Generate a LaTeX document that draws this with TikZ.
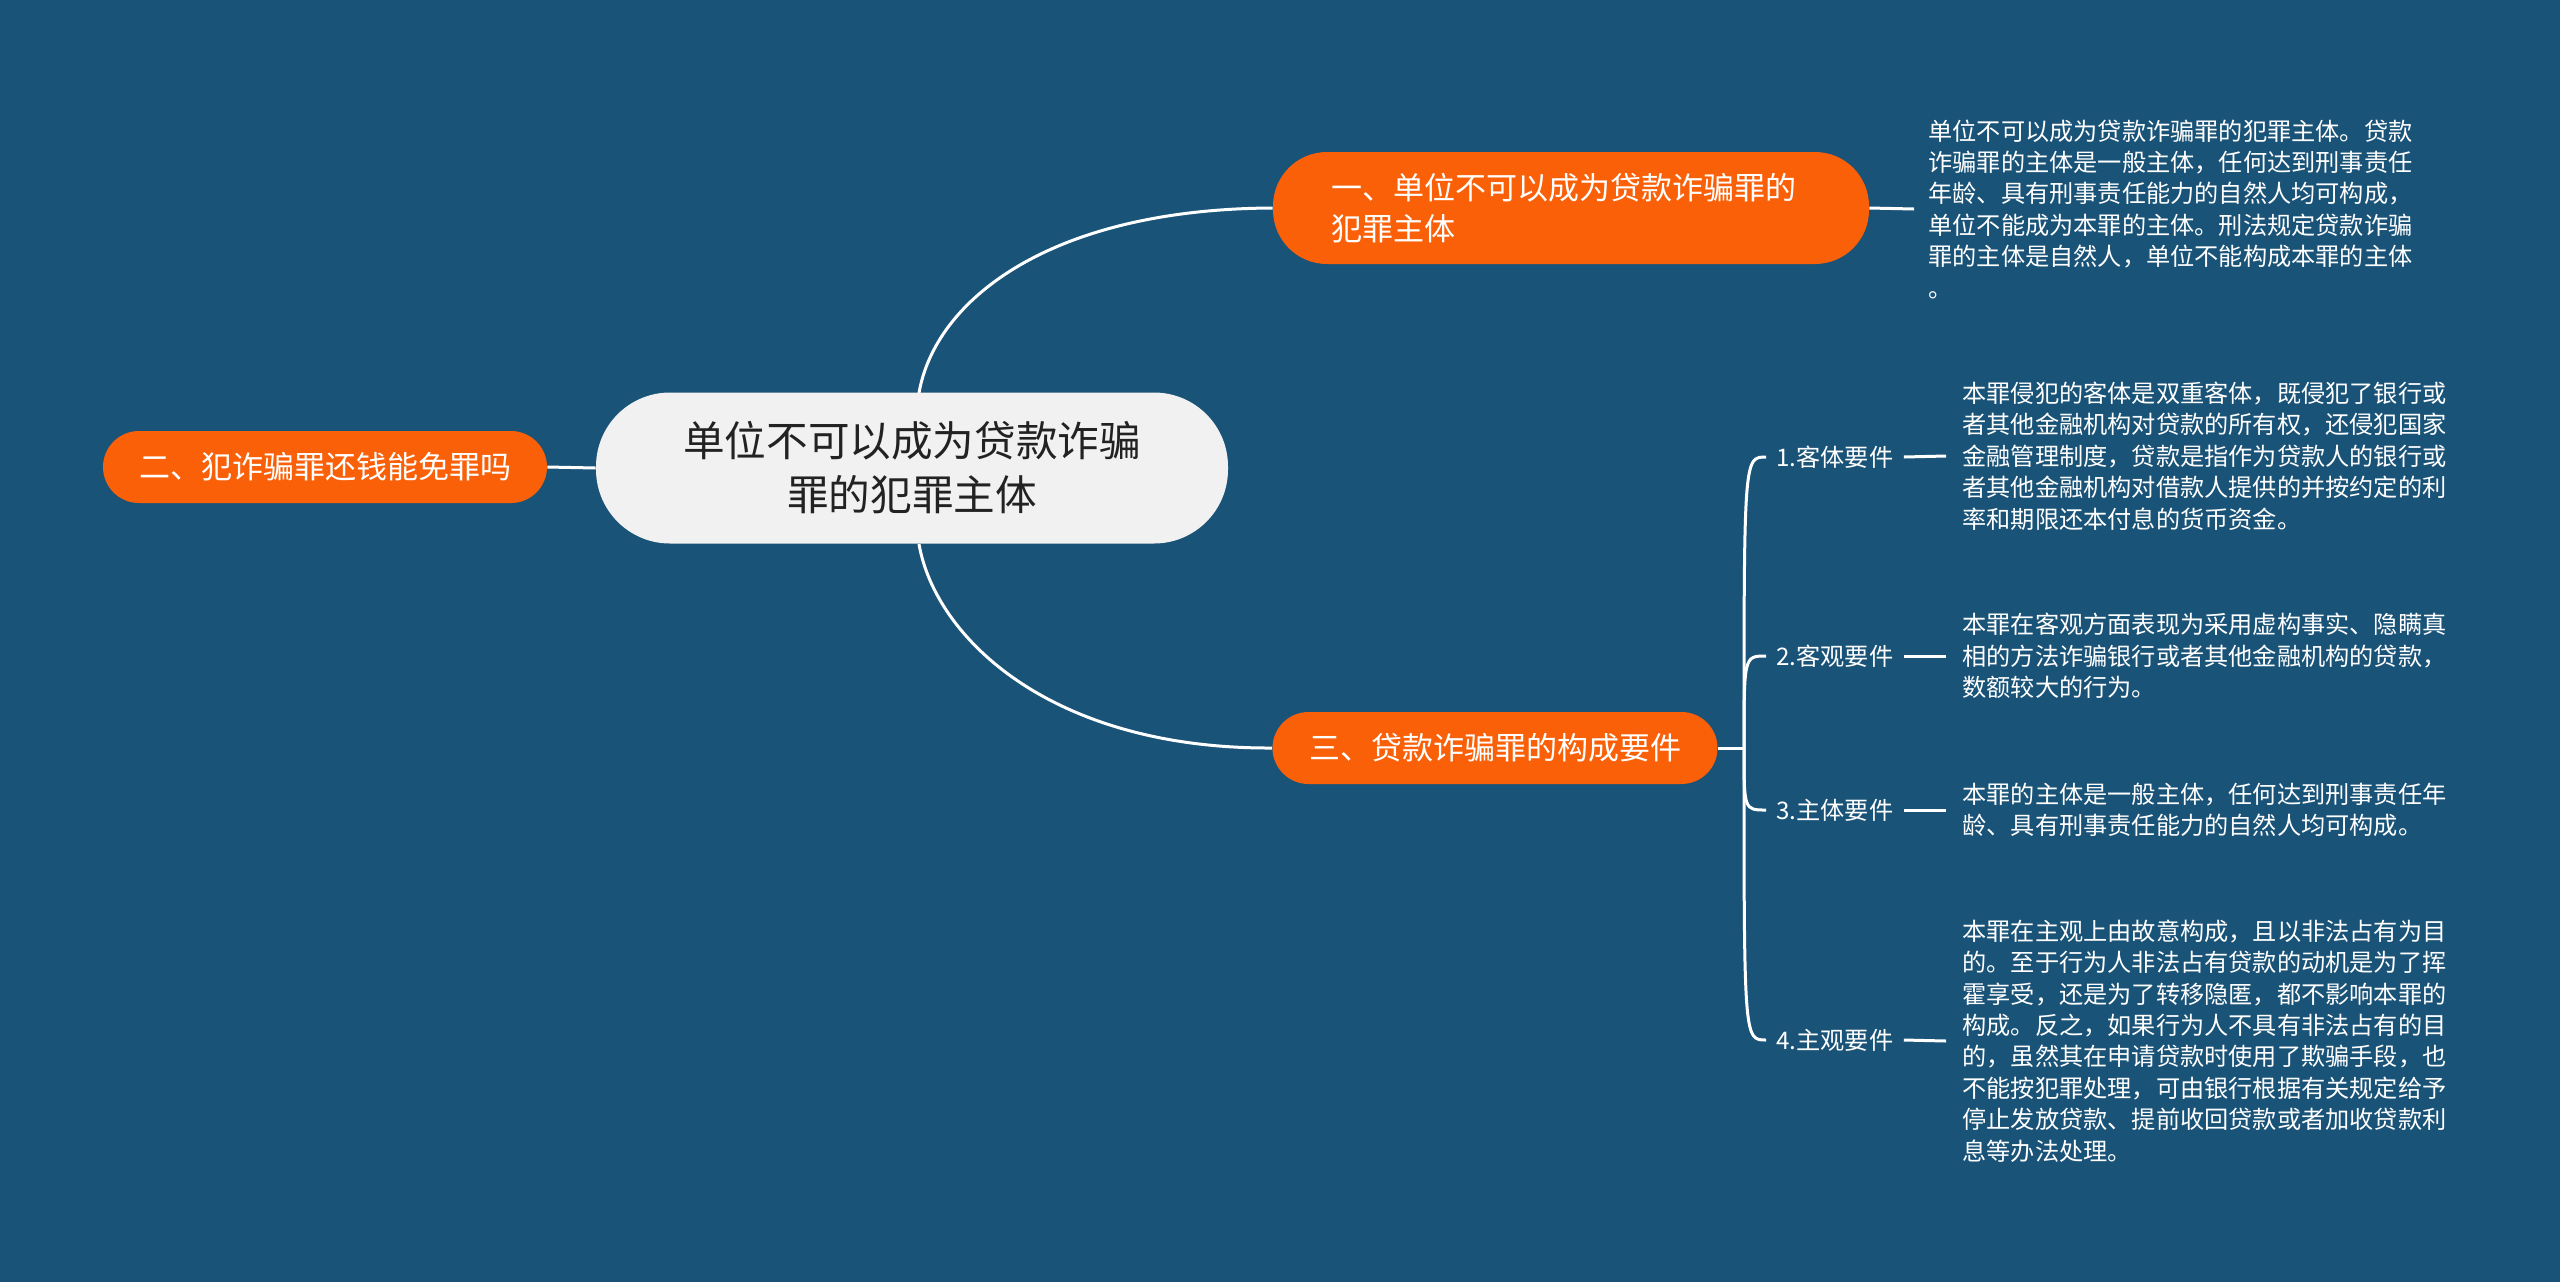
\documentclass[tikz,border=0pt]{standalone}
\usepackage{fontspec}
\setmainfont{Noto Sans CJK SC}
\definecolor{bg}{RGB}{26,83,120}
\definecolor{org}{RGB}{249,96,8}
\definecolor{ctr}{RGB}{241,241,241}
\definecolor{ctrtext}{RGB}{34,34,34}
\begin{document}
\begin{tikzpicture}[x=0.5pt,y=-0.5pt,
  conn/.style={draw=white, line width=1.5pt},
  centerbox/.style={fill=ctr, text=ctrtext, rounded corners=37pt, minimum width=316pt, minimum height=75.5pt, align=center, inner sep=0pt, font=\fontsize{20.8pt}{27pt}\selectfont},
  topicbox/.style={fill=org, text=white, rounded corners=18pt, minimum height=36pt, inner sep=0pt, align=center, font=\fontsize{15.5pt}{20.5pt}\selectfont},
  detail/.style={text=white, align=left, inner ysep=0pt, inner xsep=7pt, font=\fontsize{12.1pt}{15.7pt}\selectfont},
  sublabel/.style={text=white, inner ysep=0pt, inner xsep=5pt, font=\fontsize{12.1pt}{15.7pt}\selectfont}
]
\useasboundingbox (0,0) rectangle (2560,1281);
\fill[bg] (-20,-20) rectangle (2580,1301);

% central
\node[centerbox] (c) at (912,468) {单位不可以成为贷款诈骗\\罪的犯罪主体};

% topics
\node[topicbox, minimum width=298pt, minimum height=56pt, rounded corners=27pt, text width=240pt, align=left] (t1) at (1571,208) {一、单位不可以成为贷款诈骗罪的\\犯罪主体};
\node[topicbox, minimum width=222pt] (t2) at (325,467) {二、犯诈骗罪还钱能免罪吗};
\node[topicbox, minimum width=222.5pt] (t3) at (1495,748) {三、贷款诈骗罪的构成要件};

% detail of topic 1
\node[detail, anchor=west] (d1) at (1914,209) {单位不可以成为贷款诈骗罪的犯罪主体。贷款\\诈骗罪的主体是一般主体，任何达到刑事责任\\年龄、具有刑事责任能力的自然人均可构成，\\单位不能成为本罪的主体。刑法规定贷款诈骗\\罪的主体是自然人，单位不能构成本罪的主体\\。};

% sub labels of topic 3
\node[sublabel, anchor=west] (s1) at (1766,457) {1.客体要件};
\node[sublabel, anchor=west] (s2) at (1766,656) {2.客观要件};
\node[sublabel, anchor=west] (s3) at (1766,810) {3.主体要件};
\node[sublabel, anchor=west] (s4) at (1766,1040) {4.主观要件};

\node[detail, inner xsep=8pt, anchor=west] (k1) at (1946,456) {本罪侵犯的客体是双重客体，既侵犯了银行或\\者其他金融机构对贷款的所有权，还侵犯国家\\金融管理制度，贷款是指作为贷款人的银行或\\者其他金融机构对借款人提供的并按约定的利\\率和期限还本付息的货币资金。};
\node[detail, inner xsep=8pt, anchor=west] (k2) at (1946,656) {本罪在客观方面表现为采用虚构事实、隐瞒真\\相的方法诈骗银行或者其他金融机构的贷款，\\数额较大的行为。};
\node[detail, inner xsep=8pt, anchor=west] (k3) at (1946,810) {本罪的主体是一般主体，任何达到刑事责任年\\龄、具有刑事责任能力的自然人均可构成。};
\node[detail, inner xsep=8pt, anchor=west] (k4) at (1946,1041) {本罪在主观上由故意构成，且以非法占有为目\\的。至于行为人非法占有贷款的动机是为了挥\\霍享受，还是为了转移隐匿，都不影响本罪的\\构成。反之，如果行为人不具有非法占有的目\\的，虽然其在申请贷款时使用了欺骗手段，也\\不能按犯罪处理，可由银行根据有关规定给予\\停止发放贷款、提前收回贷款或者加收贷款利\\息等办法处理。};

\coordinate (ctop) at (919,393);
\coordinate (cbot) at (919,544);
\coordinate (j) at (1744,748);

% connectors
\draw[conn] (ctop) .. controls (935,300) and (1050,209) .. (t1.west);
\draw[conn] (cbot) .. controls (935,637) and (1050,749) .. (t3.west);
\draw[conn] (c.west) -- (t2.east);
\draw[conn] (t1.east) -- (d1.west);
\draw[conn] (t3.east) -- (j);
\draw[conn] (j) .. controls (1744,457) and (1744,457) .. (s1.west);
\draw[conn] (j) .. controls (1744,656) and (1744,656) .. (s2.west);
\draw[conn] (j) .. controls (1744,810) and (1744,810) .. (s3.west);
\draw[conn] (j) .. controls (1744,1040) and (1744,1040) .. (s4.west);
\draw[conn] (s1.east) -- (k1.west);
\draw[conn] (s2.east) -- (k2.west);
\draw[conn] (s3.east) -- (k3.west);
\draw[conn] (s4.east) -- (k4.west);
\end{tikzpicture}
\end{document}
